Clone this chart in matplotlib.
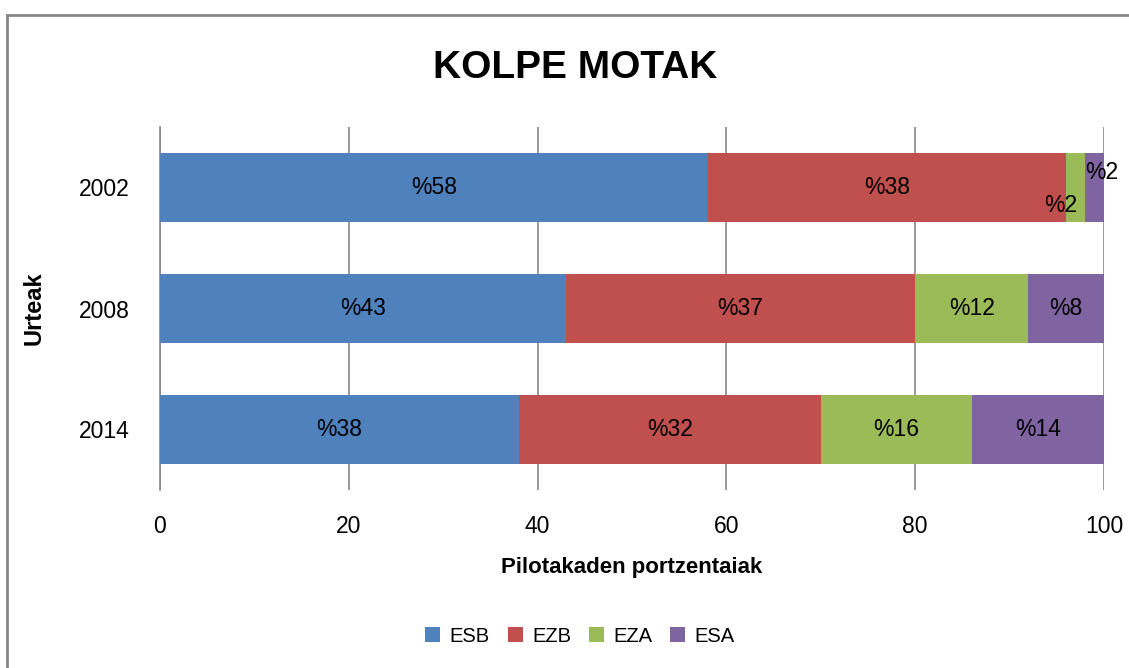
import matplotlib.pyplot as plt
from matplotlib.lines import Line2D

plt.rcParams['font.family'] = ['Liberation Sans', 'DejaVu Sans']

years = ['2002', '2008', '2014']
series = ['ESB', 'EZB', 'EZA', 'ESA']
esb = [58, 43, 38]
ezb = [38, 37, 32]
eza = [2, 12, 16]
esa = [2, 8, 14]
values = [esb, ezb, eza, esa]
colors = ['#4f81bd', '#c0504d', '#9bbb59', '#8064a2']

fig = plt.figure(figsize=(11.29, 6.68), dpi=100)
ax = fig.add_axes([160 / 1129, 1 - 490 / 668, (1104 - 160) / 1129, (490 - 127) / 668])

ypos = [2, 1, 0]
left = [0, 0, 0]
for k in range(len(series)):
    ax.barh(ypos, values[k], left=left, height=0.57, color=colors[k],
            label=series[k], zorder=3)
    for j in range(len(years)):
        v = values[k][j]
        cx = left[j] + v / 2
        cy = ypos[j]
        # small slices in 2002 sit off-centre like the original
        if years[j] == '2002' and series[k] == 'EZA':
            cx, cy = left[j] - 0.6, cy - 0.15
        elif years[j] == '2002' and series[k] == 'ESA':
            cx, cy = left[j] + 1.8, cy + 0.12
        ax.text(cx, cy, f'%{v}', ha='center', va='center', fontsize=16.5, zorder=4)
    left = [left[i] + values[k][i] for i in range(len(years))]

ax.set_xlim(0, 100)
ax.set_ylim(-0.5, 2.5)
ax.set_xticks(range(0, 101, 20))
ax.set_yticks(ypos)
ax.set_yticklabels(years)
ax.tick_params(axis='both', length=0, labelsize=16.5)
ax.tick_params(axis='x', pad=18)
ax.tick_params(axis='y', pad=22)
ax.grid(axis='x', color='#868686', lw=1.2, zorder=0)
for s in ['top', 'right', 'bottom']:
    ax.spines[s].set_visible(False)
ax.spines['left'].set_color('#868686')
ax.spines['left'].set_linewidth(1.2)

ax.set_xlabel('Pilotakaden portzentaiak', fontsize=16, fontweight='bold', labelpad=14)
ax.set_ylabel('Urteak', fontsize=17, fontweight='bold', labelpad=24)

fig.text(575 / 1129, 1 - 68 / 668, 'KOLPE MOTAK', ha='center', va='center',
         fontsize=28, fontweight='bold')

ax.legend(loc='center', bbox_to_anchor=(580 / 1129, 1 - 636 / 668),
          bbox_transform=fig.transFigure, ncol=4, frameon=False, fontsize=14.5,
          handlelength=0.75, handleheight=0.75, handletextpad=0.45, columnspacing=0.9)

# outer chart border
fig.add_artist(Line2D([7 / 1129, 7 / 1129], [0, 1 - 15 / 668], transform=fig.transFigure,
                      color='#868686', lw=2))
fig.add_artist(Line2D([7 / 1129, 1], [1 - 15 / 668, 1 - 15 / 668], transform=fig.transFigure,
                      color='#868686', lw=2))

fig.savefig('out.png', dpi=100)
